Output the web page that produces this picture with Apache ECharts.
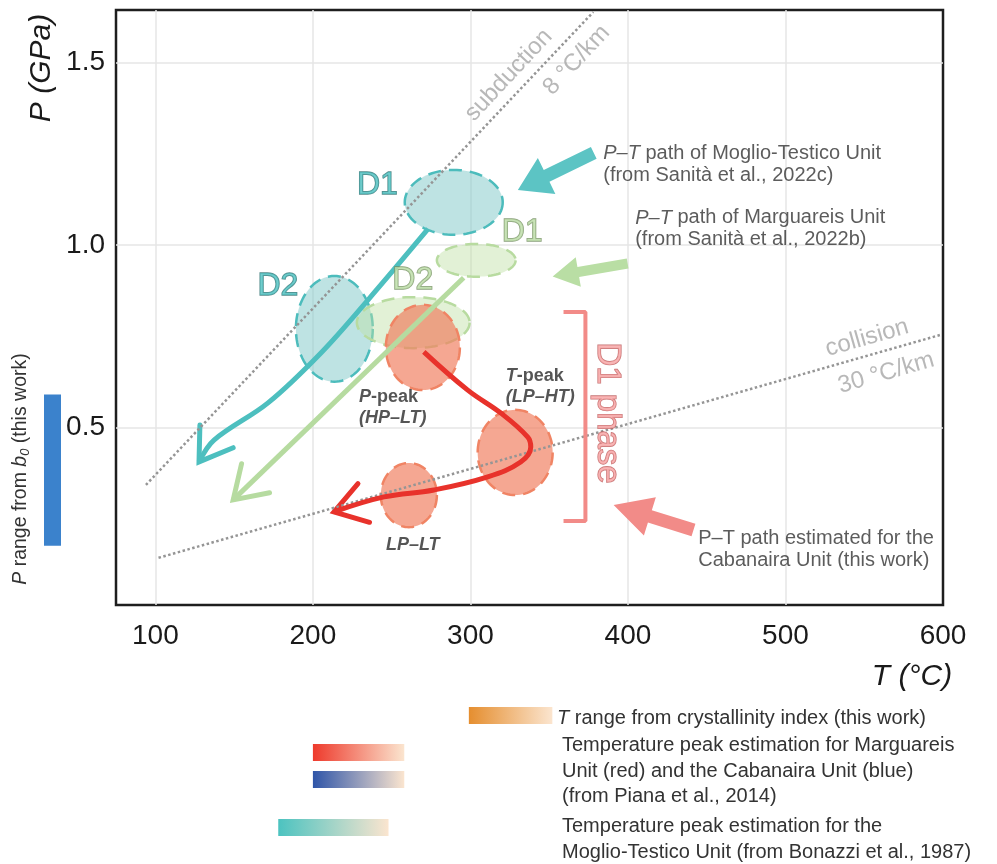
<!DOCTYPE html>
<html>
<head>
<meta charset="utf-8">
<script src="https://cdn.jsdelivr.net/npm/echarts@6/dist/echarts.min.js"></script>
<style>
  html, body { margin: 0; padding: 0; background: #fff; }
  #chart { width: 997px; height: 864px; }
</style>
</head>
<body>
<div id="chart"></div>
<script>
// axis ticks
const tTicks = [100, 200, 300, 400, 500, 600];
const tGrid = [100, 200, 300, 400, 500];
const pTicks = [0.5, 1.0, 1.5];

// geotherms, [T, P]
const subductionLine = [[94, 0.342], [378, 1.639]];
const collisionLine = [[102, 0.142], [598, 0.753]];

// ellipses, [T centre, P centre, T radius, P radius]
const mtEllipses = [[289.4, 1.117, 31.1, 0.089], [213.6, 0.770, 24.4, 0.145]];
const muEllipses = [[303.7, 0.958, 25.0, 0.045], [263.7, 0.787, 35.8, 0.070]];
const cuEllipses = [[269.8, 0.719, 23.5, 0.117], [328.4, 0.431, 23.8, 0.117], [260.9, 0.314, 17.8, 0.088]];

// P-T paths
const mtPath = [[273.1, 1.044], [234.9, 0.849], [205.1, 0.704], [171.5, 0.567], [137.2, 0.465], [127.7, 0.405]];
const muPath = [[295.7, 0.910], [149.4, 0.301]];
const cuPath = [[270.4, 0.707], [298.3, 0.602], [319.3, 0.539], [336.4, 0.473], [338.3, 0.446], [331.9, 0.405],
                [311.0, 0.364], [276.8, 0.328], [245.1, 0.309], [213.4, 0.268]];

// D1 phase bracket
const d1Bracket = [[359.1, 0.8165], [373.0, 0.8165], [373.0, 0.2433], [359.1, 0.2433]];

// pointer arrows, [tail T, tail P, tip T, tip P]
const pointerArrows = [[378.3, 1.2526, 330.1, 1.151], [399.8, 0.9493, 352.2, 0.9137], [441.6, 0.2183, 390.9, 0.2869]];

// ranges
const pRangeB0 = [0.175, 0.59];
const tRangeCrystallinity = [299, 352];
const tRangePianaMU = [200, 258];
const tRangePianaCU = [200, 258];
const tRangeBonazzi = [178, 248];

const FONT = '"Liberation Sans", Arial, Helvetica, sans-serif';
const TEAL = '#4dbfbf', GREEN = '#b6dba0', RED = '#e8322b', PINK = '#f28b88';

const chart = echarts.init(document.getElementById('chart'));

function ellipseSeries(rows, fill, stroke) {
  return {
    type: 'custom', silent: true, data: rows,
    renderItem: function (params, api) {
      const c = api.coord([api.value(0), api.value(1)]);
      const s = api.size([api.value(2), api.value(3)]);
      const rx = Math.abs(s[0]), ry = Math.abs(s[1]);
      const pts = [];
      for (let i = 0; i < 96; i++) {
        const a = i / 96 * Math.PI * 2;
        pts.push([c[0] + rx * Math.cos(a), c[1] + ry * Math.sin(a)]);
      }
      return { type: 'polygon', shape: { points: pts },
        style: { fill: fill, stroke: stroke, lineWidth: 2.5, lineDash: [13, 8] } };
    }
  };
}

function chevronSeries(path, color) {
  const n = path.length;
  return {
    type: 'custom', silent: true,
    data: [path[n - 2].concat(path[n - 1])],
    renderItem: function (params, api) {
      const p1 = api.coord([api.value(0), api.value(1)]);
      const p2 = api.coord([api.value(2), api.value(3)]);
      const back = Math.atan2(p1[1] - p2[1], p1[0] - p2[0]);
      const len = 37, spread = 33 * Math.PI / 180;
      const a1 = [p2[0] + len * Math.cos(back - spread), p2[1] + len * Math.sin(back - spread)];
      const a2 = [p2[0] + len * Math.cos(back + spread), p2[1] + len * Math.sin(back + spread)];
      return { type: 'polyline', shape: { points: [a1, p2, a2] },
        style: { stroke: color, lineWidth: 5, fill: null, lineCap: 'round', lineJoin: 'miter' } };
    }
  };
}

const arrowLook = [
  { color: '#5cc4c4', shaft: 13, headW: 40, head: 32 },
  { color: '#b9dea4', shaft: 10, headW: 30, head: 26 },
  { color: PINK, shaft: 13, headW: 40, head: 38 }
];

function gradient(c0, c1) {
  return new echarts.graphic.LinearGradient(0, 0, 1, 0, [{ offset: 0, color: c0 }, { offset: 1, color: c1 }]);
}

const tBars = [
  { range: tRangeCrystallinity, y: 707, fill: gradient('#e58e2f', '#fbe5cf') },
  { range: tRangePianaMU, y: 744, fill: gradient('#ee3a2c', '#fbe5cf') },
  { range: tRangePianaCU, y: 771, fill: gradient('#2f55a8', '#fbe5cf') },
  { range: tRangeBonazzi, y: 819, fill: gradient('#4cc3c0', '#fbe5cf') }
];

function note(T, P, text, label) {
  return { value: [T, P], label: Object.assign({ show: true, formatter: text }, label) };
}
const dStyle = (fill, border) => ({ position: 'inside', fontSize: 32, color: fill, textBorderColor: border, textBorderWidth: 1.3 });
const greyRot = (deg) => ({ position: 'inside', fontSize: 24, color: '#a6a6a6', rotate: deg });
const sideNote = { position: 'right', distance: 0, fontSize: 20, lineHeight: 22, color: '#333', align: 'left',
  rich: { i: { fontStyle: 'italic', fontSize: 20, color: '#333' } } };
const peakNote = { position: 'right', distance: 0, fontSize: 18, lineHeight: 21, color: '#2a2a2a', fontWeight: 'bold', align: 'left',
  rich: { bi: { fontStyle: 'italic', fontWeight: 'bold', fontSize: 18, color: '#2a2a2a' },
          b: { fontWeight: 'bold', fontSize: 18, color: '#2a2a2a' } } };

const notes = [
  note(324.3, 1.466, 'subduction', greyRot(47)),
  note(367.4, 1.507, '8 °C/km', greyRot(47)),
  note(551.8, 0.745, 'collision', greyRot(16)),
  note(563.9, 0.649, '30 °C/km', greyRot(16)),
  note(240.9, 1.165, 'D1', dStyle(TEAL, '#2b6f6f')),
  note(177.8, 0.888, 'D2', dStyle(TEAL, '#2b6f6f')),
  note(332.8, 1.036, 'D1', dStyle('#bcdca6', '#6f8a5d')),
  note(263.4, 0.904, 'D2', dStyle('#bcdca6', '#6f8a5d')),
  note(386.5, 0.539, 'D1 phase', { position: 'inside', fontSize: 33, color: '#f6a3a3', textBorderColor: '#b85454', textBorderWidth: 1.2, rotate: -90 }),
  note(229.2, 0.554, '{bi|P}{b|-peak}\n{bi|(HP–LT)}', peakNote),
  note(322.4, 0.6105, '{bi|T}{b|-peak}\n{bi|(LP–HT)}', peakNote),
  note(263.4, 0.177, 'LP–LT', { position: 'inside', fontSize: 18, color: '#2a2a2a', fontWeight: 'bold', fontStyle: 'italic' }),
  note(384.3, 1.222, '{i|P–T} path of Moglio-Testico Unit\n(from Sanità et al., 2022c)', sideNote),
  note(404.6, 1.044, '{i|P–T} path of Marguareis Unit\n(from Sanità et al., 2022b)', sideNote),
  note(444.6, 0.166, 'P–T path estimated for the\nCabanaira Unit (this work)', sideNote)
];

const bottomText = [
  { x: 557, y: 718, t: '{i|T} range from crystallinity index (this work)' },
  { x: 562, y: 745, t: 'Temperature peak estimation for Marguareis' },
  { x: 562, y: 771, t: 'Unit (red) and the Cabanaira Unit (blue)' },
  { x: 562, y: 796, t: '(from Piana et al., 2014)' },
  { x: 562, y: 826, t: 'Temperature peak estimation for the' },
  { x: 562, y: 852, t: 'Moglio-Testico Unit (from Bonazzi et al., 1987)' }
];

const option = {
  animation: false,
  textStyle: { fontFamily: FONT },
  grid: { left: 116, right: 54, top: 10, bottom: 259, show: true, borderColor: '#1e1e1e', borderWidth: 2.5,
          outerBoundsMode: 'none' },
  xAxis: {
    type: 'value', min: 75, max: 600,
    axisLine: { show: false },
    axisTick: { show: false, customValues: tGrid },
    axisLabel: { customValues: tTicks, fontSize: 28, color: '#1a1a1a', margin: 17 },
    splitLine: { show: true, lineStyle: { color: '#e6e6e6', width: 1.5 } }
  },
  yAxis: {
    type: 'value', min: 0.0126, max: 1.6445,
    axisLine: { show: false },
    axisTick: { show: false, customValues: pTicks },
    axisLabel: { customValues: pTicks, fontSize: 28, color: '#1a1a1a', margin: 11, formatter: v => v.toFixed(1) },
    splitLine: { show: true, lineStyle: { color: '#e6e6e6', width: 1.5 } }
  },
  graphic: [
    { type: 'text', x: 42, y: 68, rotation: Math.PI / 2,
      style: { text: 'P (GPa)', font: 'italic 30px ' + FONT, fill: '#1a1a1a', align: 'center', verticalAlign: 'middle' } },
    { type: 'text', x: 912, y: 677,
      style: { text: 'T (°C)', font: 'italic 30px ' + FONT, fill: '#1a1a1a', align: 'center', verticalAlign: 'middle' } },
    { type: 'text', x: 21, y: 469, rotation: Math.PI / 2,
      style: { text: '{i|P} range from {i|b}{s|0} (this work)', fontSize: 19.5, fontFamily: FONT, fill: '#333',
               align: 'center', verticalAlign: 'middle',
               rich: { i: { fontStyle: 'italic', fontSize: 19.5, fill: '#333' }, s: { fontStyle: 'italic', fontSize: 13, fill: '#333', verticalAlign: 'bottom', padding: [8, 0, 0, 0] } } } }
  ].concat(bottomText.map(b => ({
    type: 'text', x: b.x, y: b.y,
    style: { text: b.t, fontSize: 20, fontFamily: FONT, fill: '#333', verticalAlign: 'middle',
             rich: { i: { fontStyle: 'italic', fontSize: 20, fill: '#333' } } }
  }))),
  series: [
    { type: 'line', data: subductionLine, symbol: 'none', silent: true,
      lineStyle: { color: '#959595', width: 2.5, type: [2.5, 2.5] } },
    { type: 'line', data: collisionLine, symbol: 'none', silent: true,
      lineStyle: { color: '#959595', width: 2.5, type: [2.5, 2.5] } },
    ellipseSeries(mtEllipses, 'rgba(125,200,200,0.5)', '#4cbcbc'),
    ellipseSeries(muEllipses, 'rgba(190,224,165,0.45)', '#b8dba0'),
    { type: 'line', data: muPath, symbol: 'none', silent: true, lineStyle: { color: GREEN, width: 5 } },
    chevronSeries(muPath, GREEN),
    { type: 'line', data: mtPath, symbol: 'none', smooth: 0.35, silent: true, lineStyle: { color: TEAL, width: 5 } },
    chevronSeries(mtPath, TEAL),
    ellipseSeries(cuEllipses, 'rgba(240,125,95,0.68)', '#f08464'),
    { type: 'line', data: cuPath, symbol: 'none', smooth: 0.4, silent: true, lineStyle: { color: RED, width: 5 } },
    chevronSeries(cuPath, RED),
    { type: 'line', data: d1Bracket, symbol: 'none', silent: true, lineStyle: { color: PINK, width: 4 } },
    {
      type: 'custom', silent: true, data: pointerArrows,
      renderItem: function (params, api) {
        const a = api.coord([api.value(0), api.value(1)]);
        const b = api.coord([api.value(2), api.value(3)]);
        const st = arrowLook[params.dataIndex];
        const dx = b[0] - a[0], dy = b[1] - a[1], L = Math.hypot(dx, dy);
        const ux = dx / L, uy = dy / L, nx = -uy, ny = ux;
        const bx = b[0] - ux * st.head, by = b[1] - uy * st.head;
        const w = st.shaft / 2, hw = st.headW / 2;
        return { type: 'polygon', shape: { points: [
          [a[0] + nx * w, a[1] + ny * w], [bx + nx * w, by + ny * w], [bx + nx * hw, by + ny * hw], b,
          [bx - nx * hw, by - ny * hw], [bx - nx * w, by - ny * w], [a[0] - nx * w, a[1] - ny * w]] },
          style: { fill: st.color } };
      }
    },
    {
      type: 'custom', silent: true, clip: false, data: [pRangeB0],
      renderItem: function (params, api) {
        const y0 = api.coord([100, api.value(0)])[1];
        const y1 = api.coord([100, api.value(1)])[1];
        return { type: 'rect', shape: { x: 44, y: y1, width: 17, height: y0 - y1 }, style: { fill: '#3b82cc' } };
      }
    },
    {
      type: 'custom', silent: true, clip: false, data: tBars.map(b => b.range),
      renderItem: function (params, api) {
        const x0 = api.coord([api.value(0), 1])[0];
        const x1 = api.coord([api.value(1), 1])[0];
        const bar = tBars[params.dataIndex];
        return { type: 'rect', shape: { x: x0, y: bar.y, width: x1 - x0, height: 17 }, style: { fill: bar.fill } };
      }
    },
    { type: 'scatter', symbolSize: 0, silent: true, data: notes, z: 5 }
  ]
};

chart.setOption(option);
window.addEventListener('resize', () => chart.resize());
</script>
</body>
</html>
